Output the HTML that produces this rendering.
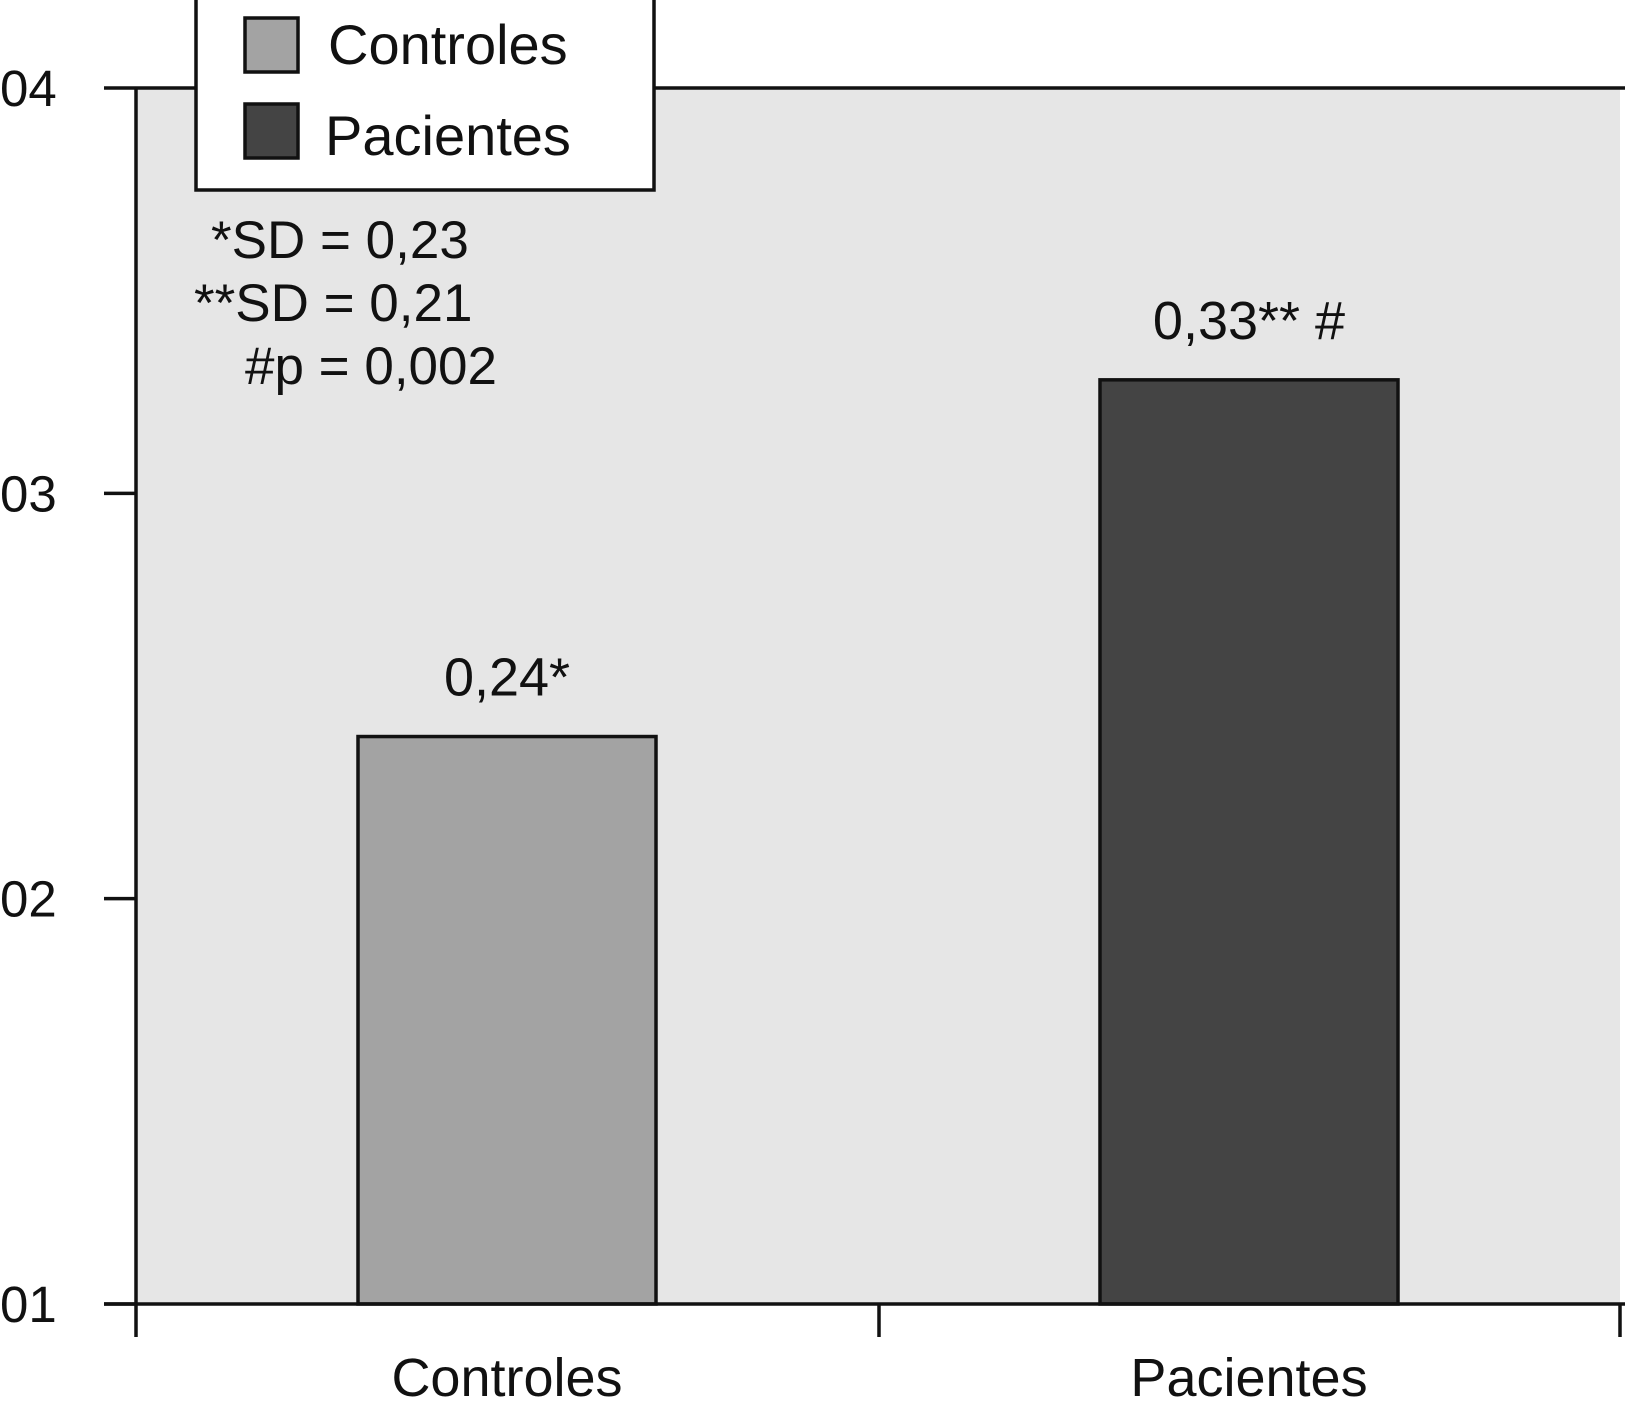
<!DOCTYPE html>
<html><head><meta charset="utf-8"><style>body{margin:0;background:#fff}svg{display:block}text{font-family:"Liberation Sans",Arial,sans-serif;fill:#111}</style></head>
<body>
<svg id="chart" width="1625" height="1415" viewBox="0 0 1625 1415" xmlns="http://www.w3.org/2000/svg">
<g id="plot"></g>
<g>
<rect x="196" y="-2" width="458" height="192" fill="#fff" stroke="#111" stroke-width="3.5"/>
<rect x="245" y="18" width="53" height="54" fill="#a3a3a3" stroke="#111" stroke-width="3.5"/>
<text x="328" y="64" font-size="56">Controles</text>
<rect x="245" y="104" width="53" height="54" fill="#444" stroke="#111" stroke-width="3.5"/>
<text x="325" y="155" font-size="56">Pacientes</text>
</g>
<text x="211" y="258" font-size="53">*SD = 0,23</text>
<text x="194" y="321" font-size="53">**SD = 0,21</text>
<text x="245" y="384" font-size="53">#p = 0,002</text>
</svg>
<script>
const categories = ["Controles", "Pacientes"];
const values = [0.24, 0.328];
const valueLabels = ["0,24*", "0,33** #"];
const yTicks = [0.1, 0.2, 0.3, 0.4];
const yTickLabels = ["01", "02", "03", "04"];
const colors = ["#a3a3a3", "#444444"];

const NS = "http://www.w3.org/2000/svg";
const L = 136, R = 1620, T = 88, B = 1304;
const yMin = 0.1, yMax = 0.4;
const y = v => B - (v - yMin) / (yMax - yMin) * (B - T);
const bandW = (R - L) / categories.length;
const xCenter = i => L + bandW * (i + 0.5);
const barW = 298;
const plot = document.getElementById("plot");
function mk(tag, attrs, txt) {
  const e = document.createElementNS(NS, tag);
  for (const k in attrs) e.setAttribute(k, attrs[k]);
  if (txt !== undefined) e.textContent = txt;
  plot.appendChild(e);
  return e;
}
let e = mk("rect", {x: L, y: T, width: R - L, height: B - T, fill: "#e6e6e6"});


categories.forEach((c, i) => {
  const cx = xCenter(i);
  const b = mk("rect", {x: cx - barW / 2, y: y(values[i]), width: barW, height: B - y(values[i]), fill: colors[i], stroke: "#111", "stroke-width": 3.5});
  
  
  const vl = mk("text", {x: cx, y: y(values[i]) - 41, "font-size": 54, "text-anchor": "middle"}, valueLabels[i]);
  
  
  const xl = mk("text", {x: cx, y: 1396, "font-size": 54, "text-anchor": "middle"}, c);
  
  
});
let a = mk("path", {d: `M${L} ${T - 1}V${B}`, stroke: "#111", "stroke-width": 3.5, fill: "none"});


a = mk("path", {d: `M${L} ${T}H${R + 5}`, stroke: "#111", "stroke-width": 3.5, fill: "none"});


a = mk("path", {d: `M104 ${B}H${R + 5}`, stroke: "#111", "stroke-width": 3.5, fill: "none"});


yTicks.forEach((v, i) => {
  const t = mk("path", {d: `M104 ${y(v)}H${L}`, stroke: "#111", "stroke-width": 3.5});
  
  
  const tl = mk("text", {x: 0, y: y(v) + 18, "font-size": 51}, yTickLabels[i]);
  
  
});
[L, 879, R].forEach(xx => {
  const t = mk("path", {d: `M${xx} ${B}V1337`, stroke: "#111", "stroke-width": 3.5});
  
  
});
</script>
</body></html>
